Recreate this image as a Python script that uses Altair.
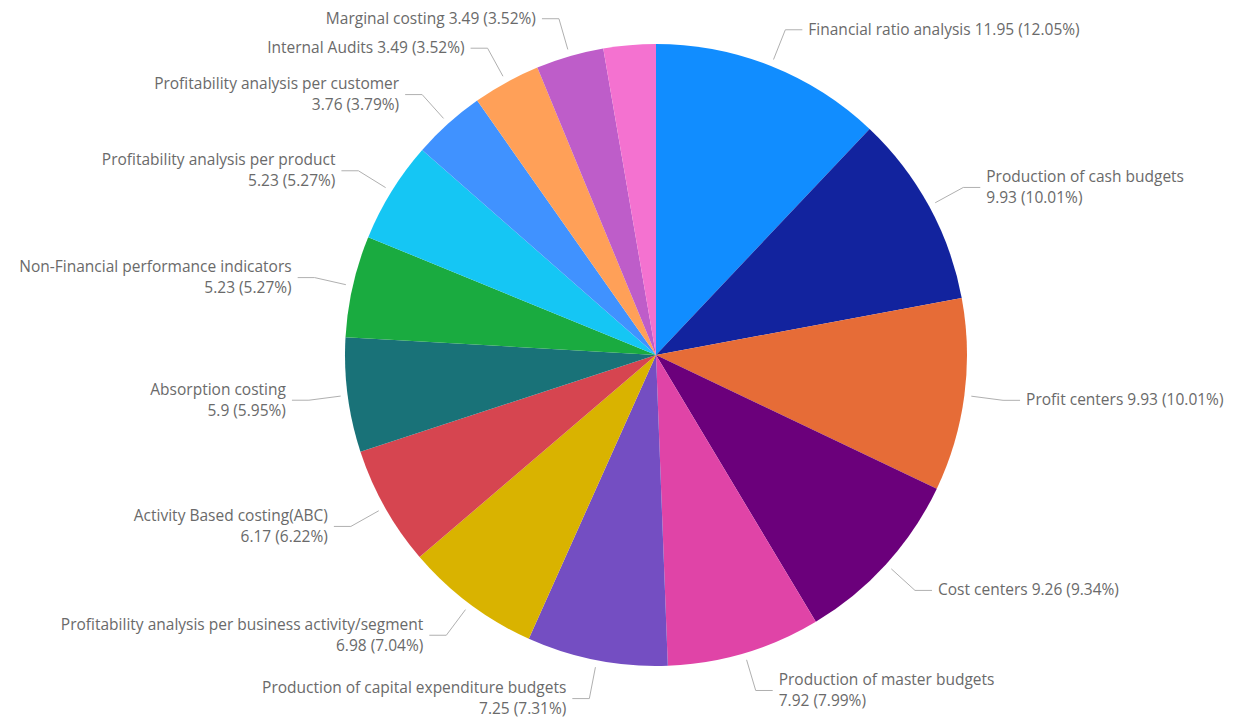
import altair as alt
import pandas as pd

# ---- data ----
categories = [
    "Financial ratio analysis",
    "Production of cash budgets",
    "Profit centers",
    "Cost centers",
    "Production of master budgets",
    "Production of capital expenditure budgets",
    "Profitability analysis per business activity/segment",
    "Activity Based costing(ABC)",
    "Absorption costing",
    "Non-Financial performance indicators",
    "Profitability analysis per product",
    "Profitability analysis per customer",
    "Internal Audits",
    "Marginal costing",
    "Other",
]
values = [11.95, 9.93, 9.93, 9.26, 7.92, 7.25, 6.98, 6.17, 5.9, 5.23, 5.23, 3.76, 3.49, 3.49, 2.69]
colors = [
    "#118DFF", "#12239E", "#E66C37", "#6B007B", "#E044A7", "#744EC2", "#D9B300",
    "#D64550", "#197278", "#1AAB40", "#15C6F4", "#4092FF", "#FFA058", "#BE5DC9", "#F472D0",
]
# separator between name and value in each label ("\n" = two-line label, None = no label)
label_breaks = [" ", "\n", " ", " ", "\n", "\n", "\n", "\n", "\n", "\n", "\n", "\n", " ", " ", None]

total = sum(values)
rows = []
for i, (c, v, b) in enumerate(zip(categories, values, label_breaks)):
    pct = v / total * 100
    lab = "" if b is None else f"{c}{b}{v:g} ({pct:.2f}%)"
    rows.append({
        "order": i,
        "category": c,
        "value": v,
        "show": b is not None,
        "label": lab,
        "nlines": lab.count("\n") + 1,
    })
df = pd.DataFrame(rows)

# ---- layout constants ----
CX, CY, R = 656, 355, 311
R0, R1 = 318, 350       # leader start / elbow radius
H, G = 17, 6            # horizontal leader length, gap to text
FONT = "Open Sans"
FS = 15.5
LH = 21
TXT = "#6a6a6a"
LEAD = "#b0b0b0"

base = alt.Chart(df)

pie = base.mark_arc(radius=R).encode(
    theta=alt.Theta("value:Q", stack=True),
    order=alt.Order("order:Q"),
    color=alt.Color("category:N", scale=alt.Scale(domain=categories, range=colors), legend=None),
    x=alt.value(CX),
    y=alt.value(CY),
)

geo = (
    base.transform_joinaggregate(total="sum(value)")
    .transform_window(cum="sum(value)", sort=[alt.SortField("order")], frame=[None, 0])
    .transform_filter("datum.show")
    .transform_calculate(mid="2*PI*(datum.cum - datum.value/2)/datum.total")
    .transform_calculate(s="sin(datum.mid)", c="cos(datum.mid)")
    .transform_calculate(
        x0=f"{CX} + {R0}*datum.s", y0=f"{CY} - {R0}*datum.c",
        x1=f"{CX} + {R1}*datum.s", y1=f"{CY} - {R1}*datum.c",
        d="datum.s >= 0 ? 1 : -1",
    )
    .transform_calculate(
        x2=f"datum.x1 + {H}*datum.d",
        ty=f"datum.y1 - {LH / 2}*(datum.nlines - 1)",
    )
    .transform_calculate(tx=f"datum.x2 + {G}*datum.d")
)

seg1 = geo.mark_rule(color=LEAD, strokeWidth=1).encode(
    x=alt.X("x0:Q", scale=None, axis=None),
    y=alt.Y("y0:Q", scale=None, axis=None),
    x2="x1:Q",
    y2="y1:Q",
)
seg2 = geo.mark_rule(color=LEAD, strokeWidth=1).encode(
    x=alt.X("x1:Q", scale=None, axis=None),
    y=alt.Y("y1:Q", scale=None, axis=None),
    x2="x2:Q",
    y2="y1:Q",
)
text_style = dict(baseline="middle", font=FONT, fontSize=FS, color=TXT, lineBreak="\n", lineHeight=LH)
txt_right = geo.transform_filter("datum.d > 0").mark_text(align="left", **text_style).encode(
    x=alt.X("tx:Q", scale=None, axis=None),
    y=alt.Y("ty:Q", scale=None, axis=None),
    text="label:N",
)
txt_left = geo.transform_filter("datum.d < 0").mark_text(align="right", **text_style).encode(
    x=alt.X("tx:Q", scale=None, axis=None),
    y=alt.Y("ty:Q", scale=None, axis=None),
    text="label:N",
)

chart = (
    alt.layer(pie, seg1, seg2, txt_right, txt_left)
    .properties(width=1236, height=722, autosize="none", padding=0, background="white")
    .configure_view(stroke=None)
)

chart.save("out.html", embed_options={"renderer": "svg", "actions": False})
